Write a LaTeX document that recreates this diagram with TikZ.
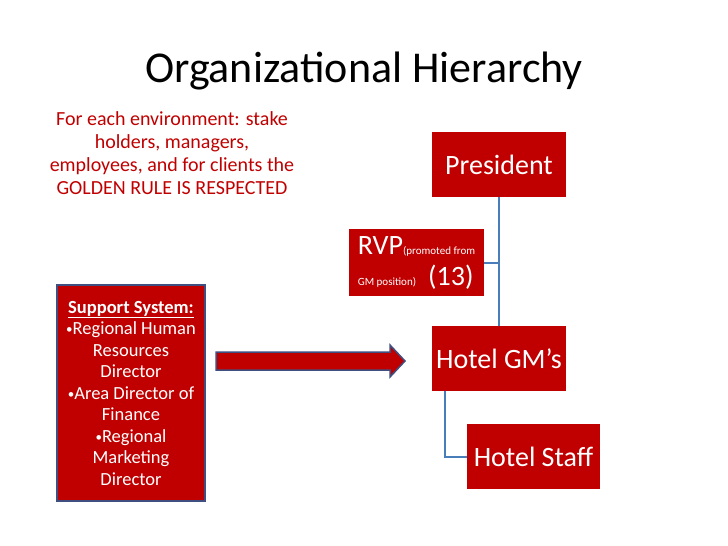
\documentclass[tikz,border=0pt]{standalone}
\usepackage{fontspec}
\setmainfont{Carlito}
\usepackage{xcolor}
\usetikzlibrary{positioning}

\definecolor{boxred}{HTML}{C00000}
\definecolor{connblue}{HTML}{4A7EBB}
\definecolor{edgeblue}{HTML}{3F4F7F}

\newcommand{\blt}{\raisebox{1pt}{\fontsize{13}{13}\selectfont •}}

\begin{document}
\begin{tikzpicture}[
    x=1pt, y=-1pt,
    box/.style={rectangle, fill=boxred, text=white, inner sep=0pt, align=center, font=\fontsize{28}{33}\selectfont},
    conn/.style={draw=connblue, line width=2pt}
]
    \useasboundingbox (0,0) rectangle (728,546);

    \node[anchor=base, font=\fontsize{44}{50}\selectfont] (title) at (364,82) {Organizational Hierarchy};
    \node[anchor=base, text=boxred, align=center, font=\fontsize{20}{23}\selectfont] (rule) at (172,194)
        {For each environment: stake\\holders, managers,\\employees, and for clients the\\GOLDEN RULE IS RESPECTED};

    \node[box, minimum width=134, minimum height=65] (president) at (499,164.5) {President};
    \node[box, minimum width=135, minimum height=67, align=left] (rvp) at (416.5,262.5)
        {RVP{\fontsize{11}{13}\selectfont(promoted from}\\[-2pt]{\fontsize{11}{13}\selectfont GM position)}\hspace{12pt}(13)};
    \node[box, minimum width=134, minimum height=65] (hotelgm) at (499,358.5) {Hotel GM’s};
    \node[box, minimum width=133, minimum height=65] (hotelstaff) at (533.5,456.5) {Hotel Staff};

    \node[box, draw=edgeblue, line width=2pt, minimum width=148, minimum height=216,
        font=\fontsize{18.5}{21.5}\selectfont] (support) at (131,393)
        {\textbf{\underline{Support System:}}\\\blt Regional Human\\Resources\\Director\\\blt Area Director of\\Finance\\\blt Regional\\Marketing\\Director};

    % block arrow towards the GM's
    \draw[fill=boxred, draw=edgeblue, line width=1.5pt, line join=miter]
        (216,352) -- (390,352) -- (390,345) -- (405,361) -- (390,377) -- (390,370) -- (216,370) -- cycle;

    \draw[conn] (president.south) -- (hotelgm.north);
    \draw[conn] (rvp.east) -- (rvp.east -| president.south);
    \draw[conn] ([xshift=13pt]hotelgm.south west) |- (hotelstaff.west);
\end{tikzpicture}
\end{document}
